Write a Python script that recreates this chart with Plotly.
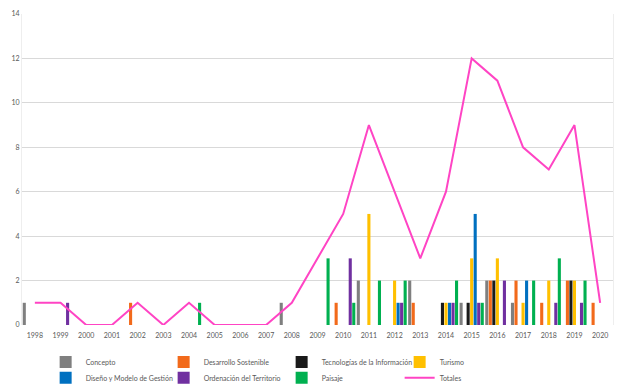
import plotly.graph_objects as go

years = [str(y) for y in range(1998, 2021)]

concepto     = [1,0,0,0,0,0,0,0,0,0,1,0,0,2,0,2,0,1,2,1,0,0,0]
desarrollo   = [0,0,0,0,1,0,0,0,0,0,0,0,1,0,0,1,0,0,2,2,1,2,1]
tecnologias  = [0,0,0,0,0,0,0,0,0,0,0,0,0,0,0,0,1,1,2,0,0,2,0]
turismo      = [0,0,0,0,0,0,0,0,0,0,0,0,0,5,2,0,1,3,3,1,2,2,0]
diseno       = [0,0,0,0,0,0,0,0,0,0,0,0,0,0,1,0,1,5,0,2,0,0,0]
ordenacion   = [0,1,0,0,0,0,0,0,0,0,0,0,3,0,1,0,1,1,2,0,1,1,0]
paisaje      = [0,0,0,0,0,0,1,0,0,0,0,3,1,2,2,0,2,1,0,2,3,2,0]
totales      = [1,1,0,0,1,0,1,0,0,0,1,3,5,9,6,3,6,12,11,8,7,9,1]

series = [
    ("Concepto", concepto, "#7f7f7f", "legend"),
    ("Desarrollo Sostenible", desarrollo, "#f26a1b", "legend"),
    ("Tecnologías de la Información", tecnologias, "#1a1a1a", "legend"),
    ("Turismo", turismo, "#ffc000", "legend"),
    ("Diseño y Modelo de Gestión", diseno, "#0070c0", "legend2"),
    ("Ordenación del Territorio", ordenacion, "#7030a0", "legend2"),
    ("Paisaje", paisaje, "#00b050", "legend2"),
]

fig = go.Figure()
for name, vals, col, lg in series:
    fig.add_trace(go.Bar(x=years, y=vals, name=name, marker_color=col,
                         marker_line_width=0, legend=lg))
fig.add_trace(go.Scatter(x=years, y=totales, name="Totales", mode="lines",
                         line=dict(color="#ff44c4", width=2), legend="legend2"))

font = dict(family="Lato, Open Sans, sans-serif", size=7, color="#595959")
leg_common = dict(orientation="h", entrywidth=73, entrywidthmode="pixels",
                  xanchor="left", yanchor="middle", itemwidth=30,
                  font=dict(family="Lato, Open Sans, sans-serif", size=7, color="#595959"),
                  bgcolor="rgba(0,0,0,0)", tracegroupgap=0, itemclick=False)

# page body has an 8px margin, so the figure is sized to the visible area
fig.update_layout(
    width=616, height=382,
    margin=dict(l=14, r=11, t=6, b=65, autoexpand=False),
    paper_bgcolor="white", plot_bgcolor="white",
    barmode="group", bargap=0.04, bargroupgap=0.12,
    font=font,
    legend=dict(x=0.04, y=-0.119, **leg_common),
    legend2=dict(x=0.04, y=-0.170, **leg_common),
    xaxis=dict(type="category", tickfont=font, showgrid=False, ticks="",
               showline=False, zeroline=False, tickangle=0, automargin=False,
               ticklabelstandoff=5),
    yaxis=dict(range=[0, 14], dtick=2, tickfont=font, showgrid=True,
               gridcolor="#d9d9d9", gridwidth=1, zeroline=False, automargin=False,
               showline=True, linecolor="#eeeeee", mirror=True, ticks=""),
)

fig.write_html("out.html")
